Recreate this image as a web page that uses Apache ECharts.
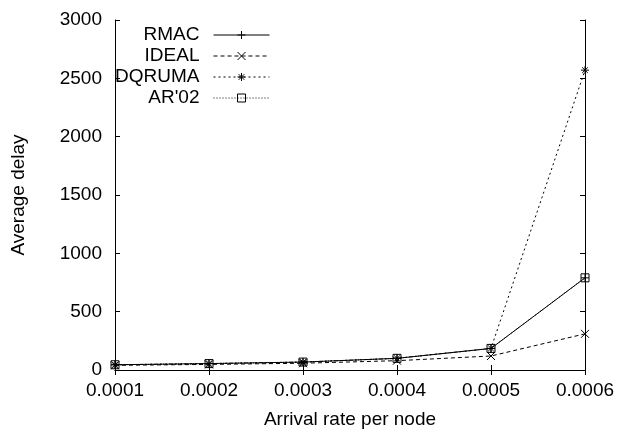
<!DOCTYPE html>
<html>
<head>
<meta charset="utf-8">
<script src="https://cdn.jsdelivr.net/npm/echarts@6/dist/echarts.min.js"></script>
<style>
  html, body { margin: 0; padding: 0; background: #fff; }
  #main { width: 621px; height: 429px; }
</style>
</head>
<body>
<div id="main"></div>
<script>
// data
var rates = [0.0001, 0.0002, 0.0003, 0.0004, 0.0005, 0.0006];
var rmac   = [45, 55, 68, 100, 185, 790];
var ideal  = [40, 48, 58, 80, 120, 310];
var dqruma = [45, 55, 68, 100, 185, 2570];
var ar02   = [45, 55, 68, 100, 185, 790];
var names  = ['RMAC', 'IDEAL', 'DQRUMA', "AR'02"];

var font = 'Liberation Sans, Arial, sans-serif';
var fs = 19;
var chart = echarts.init(document.getElementById('main'));

function pairs(ys) {
  return rates.map(function (x, i) { return [x, ys[i]]; });
}

var symPlus  = 'path://M0,5L10,5M5,0L5,10';
var symCross = 'path://M0,0L10,10M10,0L0,10';
var symStar  = 'path://M0,5L10,5M5,0L5,10M1.5,1.5L8.5,8.5M8.5,1.5L1.5,8.5';
var symBox   = 'path://M0,0L10,0L10,10L0,10Z';

function mkSeries(name, ys, sym, dash) {
  return {
    name: name,
    type: 'line',
    data: pairs(ys),
    symbol: sym,
    symbolSize: 8,
    lineStyle: { color: '#000', width: 1, type: dash },
    itemStyle: { color: 'rgba(0,0,0,0)', borderColor: '#000', borderWidth: 1 },
    emphasis: { disabled: true },
    animation: false
  };
}

// one legend per entry so text ends right-aligned before the sample
var rowTop = [25, 46, 67, 88];
var legends = names.map(function (n, i) {
  return {
    data: [n],
    right: 351,
    top: rowTop[i],
    padding: 0,
    align: 'right',
    itemWidth: 56,
    itemHeight: 10,
    selectedMode: false,
    lineStyle: { width: 1 },
    itemStyle: { borderWidth: 1 },
    textStyle: { fontFamily: font, fontSize: fs, color: '#000', lineHeight: 20, padding: [0, 9, 0, 0] }
  };
});

var option = {
  backgroundColor: '#fff',
  legend: legends,
  grid: { left: 115, right: 36, top: 20, bottom: 59, outerBoundsMode: 'none' },
  xAxis: [{
    type: 'value',
    min: 0.0001, max: 0.0006, interval: 0.0001,
    name: 'Arrival rate per node',
    nameLocation: 'middle', nameGap: 40,
    nameTextStyle: { fontFamily: font, fontSize: fs, color: '#000' },
    axisLine: { lineStyle: { color: '#000', width: 1 } },
    axisTick: { inside: true, length: 5, lineStyle: { color: '#000' } },
    axisLabel: {
      fontFamily: font, fontSize: fs, color: '#000', margin: 11,
      formatter: function (v) { return v.toFixed(4); }
    },
    splitLine: { show: false }
  }, {
    type: 'value', position: 'top',
    min: 0.0001, max: 0.0006, interval: 0.0001,
    axisLine: { lineStyle: { color: '#000', width: 1 } },
    axisTick: { inside: true, length: 5, lineStyle: { color: '#000' } },
    axisLabel: { show: false },
    splitLine: { show: false }
  }],
  yAxis: [{
    type: 'value',
    min: 0, max: 3000, interval: 500,
    name: 'Average delay',
    nameLocation: 'middle', nameGap: 87,
    nameTextStyle: { fontFamily: font, fontSize: fs, color: '#000' },
    axisLine: { show: true, lineStyle: { color: '#000', width: 1 } },
    axisTick: { show: true, inside: true, length: 5, lineStyle: { color: '#000' } },
    axisLabel: {
      fontFamily: font, fontSize: fs, color: '#000', margin: 13,
      formatter: function (v) { return String(v); }
    },
    splitLine: { show: false }
  }, {
    type: 'value', position: 'right',
    min: 0, max: 3000, interval: 500,
    axisLine: { show: true, lineStyle: { color: '#000', width: 1 } },
    axisTick: { show: true, inside: true, length: 5, lineStyle: { color: '#000' } },
    axisLabel: { show: false },
    splitLine: { show: false }
  }],
  series: [
    mkSeries(names[0], rmac, symPlus, 'solid'),
    mkSeries(names[1], ideal, symCross, [4, 3]),
    mkSeries(names[2], dqruma, symStar, [2, 3]),
    mkSeries(names[3], ar02, symBox, [1, 2])
  ]
};

chart.setOption(option);
</script>
</body>
</html>
